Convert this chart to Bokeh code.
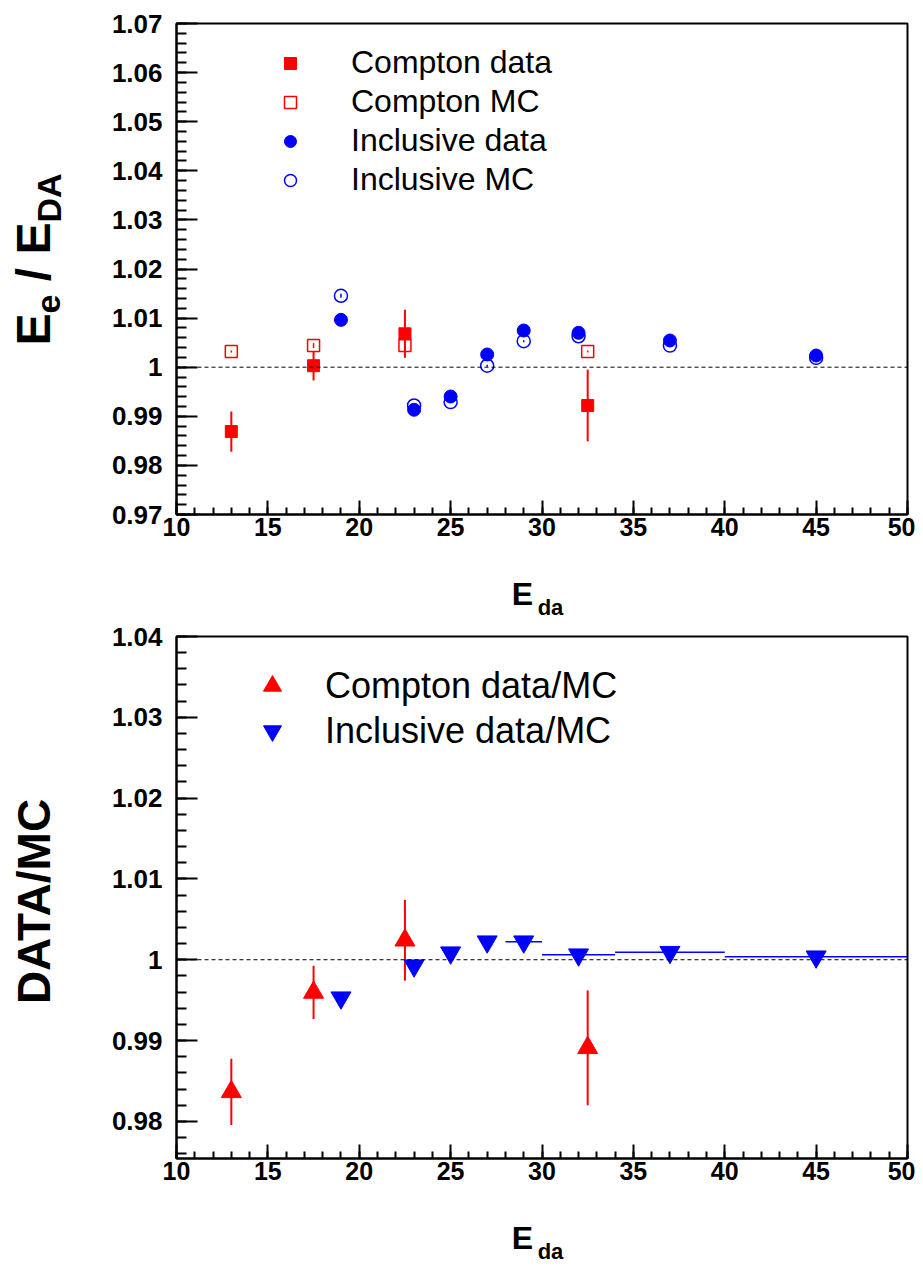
import math
import numpy as np
from bokeh.plotting import figure
from bokeh.layouts import column, row
from bokeh.models import (ColumnDataSource, Span, Label, Legend, LegendItem,
                          FixedTicker)
from bokeh.embed import file_html
from bokeh.resources import INLINE

# ---------------- data ----------------
compton_x = [13.0, 17.5, 22.5, 32.5]
compton_data = [0.9869, 1.0003, 1.0068, 0.9922]
compton_data_err = [0.0041, 0.0030, 0.0049, 0.0073]
compton_mc = [1.0032, 1.0044, 1.0044, 1.0032]
compton_mc_err = [0.0002, 0.0005, 0.0004, 0.0002]

incl_x = [19, 23, 25, 27, 29, 32, 37, 45]
incl_data = [1.00965, 0.99133, 0.99403, 1.00259, 1.00747, 1.00700, 1.00544, 1.00238]
incl_data_err = [0.0002, 0.0002, 0.0002, 0.0002, 0.0002, 0.0002, 0.0002, 0.0002]
incl_mc = [1.01454, 0.99220, 0.99290, 1.00030, 1.00530, 1.00630, 1.00440, 1.00190]
incl_mc_err = [0.0004, 0.0002, 0.0002, 0.0002, 0.0002, 0.0002, 0.0002, 0.0002]

compton_ratio = [0.98365, 0.99595, 1.00241, 0.98910]
compton_ratio_err = [0.0041, 0.0033, 0.0050, 0.0071]
incl_ratio = [0.99530, 0.99926, 1.00087, 1.00223, 1.00223, 1.00062, 1.00093, 1.00037]
incl_ratio_err = [0.0004, 0.0003, 0.0003, 0.0003, 0.0003, 0.0003, 0.0003, 0.0004]
incl_xlo = [19, 23, 25, 27, 28, 30, 34, 40]
incl_xhi = [19, 23, 25, 27, 30, 34, 40, 50]

x_ticks = [10, 15, 20, 25, 30, 35, 40, 45, 50]
top_y_ticks = [0.97, 0.98, 0.99, 1.00, 1.01, 1.02, 1.03, 1.04, 1.05, 1.06, 1.07]
bot_y_ticks = [0.98, 0.99, 1.00, 1.01, 1.02, 1.03, 1.04]

RED = "#ff0000"
BLUE = "#0000ff"
FONT = "Liberation Sans"

XR = (10, 50)
TOP_YR = (0.97, 1.07)
BOT_YR = (0.9754, 1.04)

YT_W = 70            # width of the y-title strip
FRAME_L = 176        # page x of the frame's left edge
FRAME_W = 731
TOTAL_W = FRAME_L + FRAME_W + 8


def lbl(v):
    return ("%.2f" % v).rstrip("0").rstrip(".")


def style(p, yticks, yminor):
    p.xgrid.visible = False
    p.ygrid.visible = False
    p.outline_line_color = "black"
    p.outline_line_width = 2
    xminor = list(np.arange(10, 50.001, 1.0))
    p.xaxis.ticker = FixedTicker(ticks=x_ticks, minor_ticks=xminor)
    p.yaxis.ticker = FixedTicker(ticks=yticks, minor_ticks=yminor)
    p.xaxis.major_label_overrides = {t: str(t) for t in x_ticks}
    p.yaxis.major_label_overrides = {t: lbl(t) for t in yticks}
    for ax in (p.xaxis[0], p.yaxis[0]):
        ax.axis_line_width = 2
        ax.axis_line_color = "black"
        ax.major_tick_line_width = 2
        ax.minor_tick_line_width = 2
        ax.major_tick_out = 0
        ax.minor_tick_out = 0
        ax.major_label_text_font = FONT
        ax.major_label_text_font_style = "bold"
        ax.major_label_text_color = "black"
    p.xaxis.major_tick_in = 14
    p.xaxis.minor_tick_in = 7
    p.yaxis.major_tick_in = 21
    p.yaxis.minor_tick_in = 10
    p.xaxis.major_label_text_font_size = "25px"
    p.yaxis.major_label_text_font_size = "26px"
    p.xaxis.major_label_standoff = 3
    p.yaxis.major_label_standoff = 14
    p.add_layout(Span(location=1.0, dimension="width", line_color="black",
                      line_width=1, line_dash="4 3"))


def main_fig(border_top, frame_h, border_bottom, yr):
    return figure(frame_width=FRAME_W, frame_height=frame_h,
                  min_border_left=FRAME_L - YT_W, min_border_right=8,
                  min_border_top=border_top, min_border_bottom=border_bottom,
                  x_range=XR, y_range=yr, output_backend="svg",
                  toolbar_location=None, title=None)


def strip_fig(w, h):
    p = figure(frame_width=w, frame_height=h, x_range=(0, w), y_range=(0, h),
               min_border=0, x_axis_location=None, y_axis_location=None,
               output_backend="svg", toolbar_location=None, title=None)
    p.grid.visible = False
    p.outline_line_color = None
    return p


def text(p, x, y, t, size, angle=0.0):
    # (x, y) is the centre of the text box
    p.add_layout(Label(x=x, y=y, text=t, angle=angle,
                       text_font=FONT, text_font_style="bold",
                       text_font_size=size, text_color="black",
                       text_align="center", text_baseline="middle"))


A = math.pi / 2
BIG, SMALL = 48, 34

# ---------------- top panel ----------------
TOP_H = 23 + 491 + 40
top = main_fig(23, 491, 40, TOP_YR)
top_minor = [round(v, 4) for v in np.arange(0.97, 1.07001, 0.002)]
style(top, top_y_ticks, top_minor)

src_c = ColumnDataSource(dict(
    x=compton_x, d=compton_data,
    dlo=[v - e for v, e in zip(compton_data, compton_data_err)],
    dhi=[v + e for v, e in zip(compton_data, compton_data_err)],
    m=compton_mc,
    mlo=[v - e for v, e in zip(compton_mc, compton_mc_err)],
    mhi=[v + e for v, e in zip(compton_mc, compton_mc_err)]))
src_i = ColumnDataSource(dict(
    x=incl_x, d=incl_data,
    dlo=[v - e for v, e in zip(incl_data, incl_data_err)],
    dhi=[v + e for v, e in zip(incl_data, incl_data_err)],
    m=incl_mc,
    mlo=[v - e for v, e in zip(incl_mc, incl_mc_err)],
    mhi=[v + e for v, e in zip(incl_mc, incl_mc_err)]))

top.segment(x0="x", x1="x", y0="mlo", y1="mhi", source=src_c, line_color=RED, line_width=1.5)
top.segment(x0="x", x1="x", y0="mlo", y1="mhi", source=src_i, line_color=BLUE, line_width=1.5)
r_cm = top.scatter("x", "m", source=src_c, marker="square", size=12,
                   fill_alpha=0.0, line_color=RED, line_width=1.5)
r_im = top.scatter("x", "m", source=src_i, marker="circle", size=13,
                   fill_alpha=0.0, line_color=BLUE, line_width=1.5)
top.segment(x0="x", x1="x", y0="dlo", y1="dhi", source=src_c, line_color=RED, line_width=2)
top.segment(x0="x", x1="x", y0="dlo", y1="dhi", source=src_i, line_color=BLUE, line_width=1.5)
r_cd = top.scatter("x", "d", source=src_c, marker="square", size=12,
                   fill_color=RED, line_color=RED, line_width=1)
r_id = top.scatter("x", "d", source=src_i, marker="circle", size=13,
                   fill_color=BLUE, line_color=BLUE, line_width=1)

leg_t = Legend(items=[LegendItem(label="Compton data", renderers=[r_cd]),
                      LegendItem(label="Compton MC", renderers=[r_cm]),
                      LegendItem(label="Inclusive data", renderers=[r_id]),
                      LegendItem(label="Inclusive MC", renderers=[r_im])],
               location=(99, 315), orientation="vertical",
               glyph_width=30, glyph_height=30, label_height=39,
               label_standoff=46, spacing=0, padding=0, margin=0,
               border_line_color=None, background_fill_alpha=0.0,
               label_text_font=FONT, label_text_font_size="32px",
               label_text_color="black", label_text_baseline="middle")
top.add_layout(leg_t)

# y title strip (top): page y -> local y
yt_top = strip_fig(YT_W, TOP_H)


def yt(py):
    return TOP_H - py


# "E_e / E_DA" read bottom-to-top; pieces placed by their centres
big_c, small_c = 32.5, 48.0
s = 322.0
w = 0.667 * BIG
text(yt_top, big_c, yt(s - w / 2), "E", "%dpx" % BIG, angle=A)
s -= w
w = 0.556 * SMALL
text(yt_top, small_c, yt(s - w / 2), "e", "%dpx" % SMALL, angle=A)
s -= w
w = 1.501 * BIG
text(yt_top, big_c, yt(s - w / 2), "\u00a0/\u00a0E", "%dpx" % BIG, angle=A)
s -= w
w = 1.444 * SMALL
text(yt_top, small_c, yt(s - w / 2), "DA", "%dpx" % SMALL, angle=A)

# x title strip (top)
XT_TOP_Y = TOP_H
XT_TOP_H = 620 - XT_TOP_Y
xt_top = strip_fig(TOTAL_W, XT_TOP_H)


def xtt(py):
    return XT_TOP_H - (py - XT_TOP_Y)


text(xt_top, 522, xtt(593), "E", "32px")
text(xt_top, 550, xtt(607), "da", "22px")

# ---------------- bottom panel ----------------
BOT_TOP = 620
BOT_H = 16 + 522 + 40
bot = main_fig(16, 522, 40, BOT_YR)
bot_minor = [round(v, 4) for v in np.arange(0.976, 1.04001, 0.002)]
style(bot, bot_y_ticks, bot_minor)

src_cr = ColumnDataSource(dict(
    x=compton_x, y=compton_ratio,
    lo=[v - e for v, e in zip(compton_ratio, compton_ratio_err)],
    hi=[v + e for v, e in zip(compton_ratio, compton_ratio_err)]))
src_ir = ColumnDataSource(dict(
    x=incl_x, y=incl_ratio, xlo=incl_xlo, xhi=incl_xhi,
    lo=[v - e for v, e in zip(incl_ratio, incl_ratio_err)],
    hi=[v + e for v, e in zip(incl_ratio, incl_ratio_err)]))

bot.segment(x0="xlo", x1="xhi", y0="y", y1="y", source=src_ir, line_color=BLUE, line_width=1.5)
bot.segment(x0="x", x1="x", y0="lo", y1="hi", source=src_ir, line_color=BLUE, line_width=1.5)
bot.segment(x0="x", x1="x", y0="lo", y1="hi", source=src_cr, line_color=RED, line_width=2)
r_cr = bot.scatter("x", "y", source=src_cr, marker="triangle", size=20,
                   fill_color=RED, line_color=RED, line_width=1)
r_ir = bot.scatter("x", "y", source=src_ir, marker="inverted_triangle", size=20,
                   fill_color=BLUE, line_color=BLUE, line_width=1)

leg_b = Legend(items=[LegendItem(label="Compton data/MC", renderers=[r_cr]),
                      LegendItem(label="Inclusive data/MC", renderers=[r_ir])],
               location=(71, 405), orientation="vertical",
               glyph_width=50, glyph_height=45, label_height=45,
               label_standoff=28, spacing=0, padding=0, margin=0,
               border_line_color=None, background_fill_alpha=0.0,
               label_text_font=FONT, label_text_font_size="36px",
               label_text_color="black", label_text_baseline="middle")
bot.add_layout(leg_b)

yt_bot = strip_fig(YT_W, BOT_H)
text(yt_bot, 33, BOT_H - (885 - BOT_TOP), "DATA/MC", "46px", angle=A)

XT_BOT_Y = BOT_TOP + BOT_H
XT_BOT_H = 1272 - XT_BOT_Y
xt_bot = strip_fig(TOTAL_W, XT_BOT_H)


def xtb(py):
    return XT_BOT_H - (py - XT_BOT_Y)


text(xt_bot, 522, xtb(1237), "E", "32px")
text(xt_bot, 550, xtb(1251), "da", "22px")

layout = column(row(yt_top, top, spacing=0), xt_top,
                row(yt_bot, bot, spacing=0), xt_bot, spacing=0)
open("out.html", "w").write(file_html(layout, INLINE))
